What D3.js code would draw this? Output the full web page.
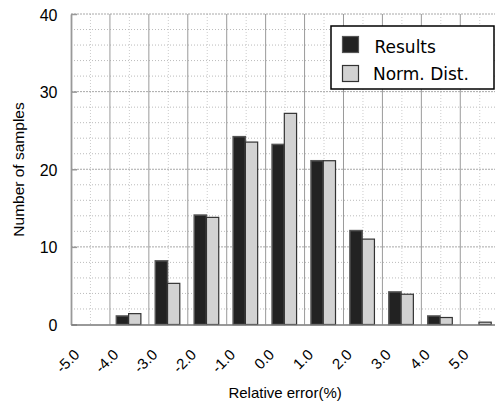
<!DOCTYPE html>
<html>
<head>
<meta charset="utf-8">
<script src="https://cdn.jsdelivr.net/npm/d3@7"></script>
<style>
  body { margin: 0; background: #fff; }
  svg { display: block; }
  text { font-family: "Liberation Sans", Arial, sans-serif; fill: #000; }
</style>
</head>
<body>
<svg id="chart" width="495" height="405"></svg>
<script>
// bin lower edges (relative error %), and counts per bin
var bins = [-5, -4, -3, -2, -1, 0, 1, 2, 3, 4, 5];
var results = [0, 1.1, 8.2, 14.1, 24.2, 23.2, 21.1, 12.1, 4.2, 1.1, 0];
var normDist = [0, 1.4, 5.3, 13.8, 23.5, 27.2, 21.1, 11.0, 3.9, 0.9, 0.3];
var yTicks = [0, 10, 20, 30, 40];
var seriesNames = ["Results", "Norm. Dist."];

var svg = d3.select("#chart");

var x = d3.scaleLinear().domain([-5, 6]).range([71, 499.2]);
var y = d3.scaleLinear().domain([0, 40]).range([324.5, 14]);

// grid
var grid = svg.append("g");
grid.selectAll("line.hminor")
  .data(d3.range(2, 40, 2).filter(function (v) { return v % 10 != 0; }))
  .enter().append("line")
  .attr("x1", x(-5)).attr("x2", x(6))
  .attr("y1", function (d) { return y(d); }).attr("y2", function (d) { return y(d); })
  .attr("stroke", "#bbb").attr("stroke-dasharray", "1,2");

grid.selectAll("line.vminor")
  .data(d3.range(-4.5, 6, 1))
  .enter().append("line")
  .attr("x1", function (d) { return x(d); }).attr("x2", function (d) { return x(d); })
  .attr("y1", y(40)).attr("y2", y(0))
  .attr("stroke", "#ccc").attr("stroke-dasharray", "1,2");

grid.selectAll("line.hmajor")
  .data(yTicks.slice(1))
  .enter().append("line")
  .attr("x1", x(-5)).attr("x2", x(6))
  .attr("y1", function (d) { return y(d); }).attr("y2", function (d) { return y(d); })
  .attr("stroke", "#a8a8a8").attr("stroke-dasharray", "2,1");

grid.selectAll("line.vmajor")
  .data(bins.slice(1))
  .enter().append("line")
  .attr("x1", function (d) { return x(d); }).attr("x2", function (d) { return x(d); })
  .attr("y1", y(40)).attr("y2", y(0))
  .attr("stroke", "#9a9a9a").attr("stroke-width", 1);

// bars
var bw = x(0.315) - x(0);
svg.selectAll("rect.res")
  .data(bins)
  .enter().append("rect")
  .attr("x", function (d) { return x(d + 0.165); })
  .attr("y", function (d, i) { return y(results[i]); })
  .attr("width", bw)
  .attr("height", function (d, i) { return y(0) - y(results[i]); })
  .attr("fill", "#222")
  .attr("stroke", "#555")
  .attr("stroke-width", 1.5);

svg.selectAll("rect.nd")
  .data(bins)
  .enter().append("rect")
  .attr("x", function (d) { return x(d + 0.48); })
  .attr("y", function (d, i) { return y(normDist[i]); })
  .attr("width", bw)
  .attr("height", function (d, i) { return y(0) - y(normDist[i]); })
  .attr("fill", "#d2d2d2")
  .attr("stroke", "#333")
  .attr("stroke-width", 1.2);

// axes
var yAxis = svg.append("g")
  .attr("transform", "translate(" + x(-5) + ",0)")
  .call(d3.axisLeft(y).tickValues(yTicks).tickSizeInner(-6).tickSizeOuter(0).tickPadding(13.5));
yAxis.select(".domain").attr("stroke", "#999").attr("stroke-width", 1.8);
yAxis.selectAll(".tick line").attr("stroke", "#999").attr("stroke-width", 1.5);
yAxis.selectAll(".tick text")
  .attr("font-size", 16).attr("dy", "0.38em")
  .style("font-family", "'Liberation Sans', Arial, sans-serif");

var xAxis = svg.append("g")
  .attr("transform", "translate(0," + y(0) + ")")
  .call(d3.axisBottom(x).tickValues(bins).tickSize(0).tickFormat(function (d) { return d.toFixed(1); }));
xAxis.select(".domain").attr("stroke", "#777").attr("stroke-width", 1.5);
xAxis.selectAll(".tick text")
  .attr("font-size", 15)
  .attr("text-anchor", "end")
  .attr("x", 9).attr("y", 31).attr("dy", 0)
  .attr("transform", "rotate(-45,9,31)")
  .style("font-family", "'Liberation Sans', Arial, sans-serif");

// axis titles
svg.append("text")
  .attr("x", (x(-5) + x(6)) / 2).attr("y", 398)
  .attr("text-anchor", "middle").attr("font-size", 15)
  .text("Relative error(%)");

svg.append("text")
  .attr("transform", "translate(24,169.5) rotate(-90)")
  .attr("text-anchor", "middle").attr("font-size", 15.5)
  .text("Number of samples");

// legend
var lg = svg.append("g");
lg.append("rect")
  .attr("x", 331).attr("y", 26).attr("width", 163).attr("height", 63)
  .attr("fill", "#fff").attr("stroke", "#000").attr("stroke-width", 1.5);
var swFill = ["#222", "#d2d2d2"], swStroke = ["#555", "#333"];
seriesNames.forEach(function (name, i) {
  lg.append("rect")
    .attr("x", 342.5).attr("y", 36.5 + i * 29)
    .attr("width", 16).attr("height", 16)
    .attr("fill", swFill[i]).attr("stroke", swStroke[i]).attr("stroke-width", 1.2);
  lg.append("text")
    .attr("x", i == 0 ? 374.5 : 373).attr("y", 53 + i * 27)
    .attr("font-size", 17)
    .style("font-family", "'DejaVu Sans', sans-serif")
    .text(name);
});
</script>
</body>
</html>
